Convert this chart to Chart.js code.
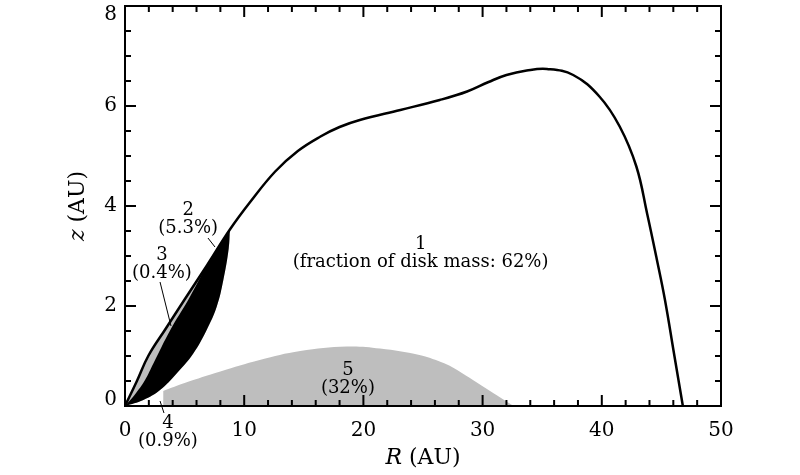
<!DOCTYPE html>
<html>
<head>
<meta charset="utf-8">
<script src="https://cdn.jsdelivr.net/npm/chart.js@4/dist/chart.umd.min.js"></script>
<style>
  body { margin: 0; background: #fff; }
</style>
</head>
<body>
<canvas id="scheibe" width="800" height="475"></canvas>
<script>
// Aussenkontur von Region 1 (R, z in AU)
const aussenR = [0, 1, 1.95, 3.4, 5, 6.9, 8.8, 10.5, 12.6, 14.5, 16.4, 18, 19.7, 23.1, 26.4, 28.7, 30.5, 32, 33.7, 35.4, 37.6, 39.8, 41.5, 42.9, 43.8, 44.6, 45.3, 46.05, 46.8];
const aussenZ = [0, 0.5, 1.0, 1.54, 2.13, 2.82, 3.53, 4.08, 4.69, 5.1, 5.39, 5.58, 5.72, 5.92, 6.12, 6.29, 6.48, 6.62, 6.71, 6.74, 6.62, 6.19, 5.59, 4.79, 3.85, 2.95, 2.12, 1.06, 0];

// Grenze zwischen Region 3 und Region 2
const grenze32R = [0, 0.8, 1.68, 2.38, 3.8, 5.3, 6.9, 8.8];
const grenze32Z = [0, 0.22, 0.52, 0.85, 1.52, 2.12, 2.82, 3.53];

// Grenze zwischen Region 2 und Region 4
const grenze24R = [0, 1.54, 2.94, 4.33, 5.73, 6.85, 7.7, 8.25, 8.7, 8.8];
const grenze24Z = [0, 0.12, 0.32, 0.65, 1.05, 1.52, 1.99, 2.52, 3.15, 3.53];

// Obere Kante von Region 5
const region5R = [3.2, 5, 8, 11.3, 14.7, 18.6, 21.4, 24.7, 26.5, 27.5, 30.3, 32.6];
const region5Z = [0.3, 0.46, 0.69, 0.92, 1.1, 1.19, 1.15, 1.02, 0.88, 0.77, 0.35, 0];

// Beschriftungen der Regionen
const beschriftungen = [
  { zeilen: ['1', '(fraction of disk mass: 62%)'], r: 24.8, z: 3.24 },
  { zeilen: ['2', '(5.3%)'], r: 5.3, z: 3.92 },
  { zeilen: ['3', '(0.4%)'], r: 3.1, z: 3.02 },
  { zeilen: ['4', '(0.9%)'], r: 3.6, z: -0.34 },
  { zeilen: ['5', '(32%)'], r: 18.7, z: 0.72 }
];
const zeiger = [
  [6.96, 3.36, 7.55, 3.18],
  [2.94, 2.48, 3.86, 1.6],
  [2.94, 0.1, 3.27, -0.14]
];

const punkte = (rs, zs) => rs.map((r, i) => ({ x: r, y: zs[i] }));
const spitzeR = 8.8;
const aussenInnen = punkte(aussenR, aussenZ).filter(p => p.x <= spitzeR);

const schrift = '"DejaVu Serif", serif';

const rahmenPlugin = {
  id: 'rahmen',
  afterDraw(chart) {
    const { ctx, chartArea: a, scales: { x, y } } = chart;
    ctx.save();
    ctx.strokeStyle = '#000';
    ctx.lineWidth = 2;
    ctx.strokeRect(a.left, a.top, a.right - a.left, a.bottom - a.top);
    ctx.beginPath();
    for (let i = 0; i <= 25; i++) {
      const px = x.getPixelForValue(i * 2);
      const laenge = i % 5 === 0 ? 11 : 6;
      ctx.moveTo(px, a.bottom); ctx.lineTo(px, a.bottom - laenge);
      ctx.moveTo(px, a.top); ctx.lineTo(px, a.top + laenge);
    }
    for (let i = 0; i <= 16; i++) {
      const py = y.getPixelForValue(i * 0.5);
      const laenge = i % 4 === 0 ? 11 : 6;
      ctx.moveTo(a.left, py); ctx.lineTo(a.left + laenge, py);
      ctx.moveTo(a.right, py); ctx.lineTo(a.right - laenge, py);
    }
    ctx.stroke();

    // Zeigerlinien
    ctx.lineWidth = 1;
    ctx.beginPath();
    zeiger.forEach(([r1, z1, r2, z2]) => {
      ctx.moveTo(x.getPixelForValue(r1), y.getPixelForValue(z1));
      ctx.lineTo(x.getPixelForValue(r2), y.getPixelForValue(z2));
    });
    ctx.stroke();

    // Regionsbeschriftungen
    ctx.fillStyle = '#000';
    ctx.font = '18px ' + schrift;
    ctx.textAlign = 'center';
    ctx.textBaseline = 'middle';
    beschriftungen.forEach(b => {
      const px = x.getPixelForValue(b.r);
      const py = y.getPixelForValue(b.z);
      b.zeilen.forEach((t, i) => ctx.fillText(t, px, py + i * 18));
    });

    // Achsentitel mit kursivem Symbol
    const titel = (symbol, rest, cx, cy, winkel) => {
      ctx.save();
      ctx.translate(cx, cy);
      ctx.rotate(winkel);
      ctx.font = 'italic 22px ' + schrift;
      const bs = ctx.measureText(symbol).width;
      ctx.font = '22px ' + schrift;
      const br = ctx.measureText(rest).width;
      const start = -(bs + br) / 2;
      ctx.textAlign = 'left';
      ctx.font = 'italic 22px ' + schrift;
      ctx.fillText(symbol, start, 0);
      ctx.font = '22px ' + schrift;
      ctx.fillText(rest, start + bs, 0);
      ctx.restore();
    };
    titel('R', ' (AU)', (a.left + a.right) / 2, 458, 0);
    titel('z', ' (AU)', 78, (a.top + a.bottom) / 2, -Math.PI / 2);
    ctx.restore();
  }
};

new Chart(document.getElementById('scheibe').getContext('2d'), {
  type: 'scatter',
  data: {
    datasets: [
      {
        label: 'Region 1',
        data: punkte(aussenR, aussenZ),
        showLine: true,
        borderColor: '#000',
        borderWidth: 2.5,
        tension: 0.4,
        fill: false,
        order: 0
      },
      {
        label: 'Region 2',
        data: punkte(grenze32R, grenze32Z),
        showLine: true,
        borderWidth: 0,
        borderColor: 'rgba(0,0,0,0)',
        backgroundColor: '#000',
        tension: 0.4,
        fill: { target: 2 },
        order: 1
      },
      {
        label: 'Grenze 2/4',
        data: punkte(grenze24R, grenze24Z),
        showLine: true,
        borderWidth: 0,
        borderColor: 'rgba(0,0,0,0)',
        tension: 0.4,
        fill: false,
        order: 2
      },
      {
        label: 'Region 3',
        data: aussenInnen,
        showLine: true,
        borderWidth: 0,
        borderColor: 'rgba(0,0,0,0)',
        backgroundColor: '#bebebe',
        tension: 0.4,
        fill: { target: 2 },
        order: 3
      },
      {
        label: 'Region 5',
        data: punkte(region5R, region5Z),
        showLine: true,
        borderWidth: 0,
        borderColor: 'rgba(0,0,0,0)',
        backgroundColor: '#bebebe',
        tension: 0.4,
        fill: 'origin',
        order: 4
      }
    ]
  },
  options: {
    responsive: false,
    animation: false,
    layout: { padding: { top: 6, right: 79, left: 0, bottom: 0 } },
    elements: { point: { radius: 0, hoverRadius: 0 } },
    plugins: {
      legend: { display: false },
      tooltip: { enabled: false }
    },
    scales: {
      x: {
        type: 'linear',
        min: 0,
        max: 50,
        ticks: {
          stepSize: 10,
          color: '#000',
          padding: 13,
          maxRotation: 0,
          font: { family: schrift, size: 20 }
        },
        grid: { display: false, drawTicks: false },
        border: { display: false },
        afterFit: s => { s.height = 69; s.paddingLeft = 0; s.paddingRight = 0; }
      },
      y: {
        min: 0,
        max: 8,
        ticks: {
          stepSize: 2,
          color: '#000',
          padding: 8,
          // Randbeschriftungen wie im Original nach innen gerückt
          callback: v => v === 8 ? ['', '8'] : v === 0 ? ['0', ''] : String(v),
          font: c => {
            const v = c.tick ? c.tick.value : null;
            return { family: schrift, size: 20, lineHeight: v === 8 ? '18px' : v === 0 ? '12px' : 1.2 };
          }
        },
        grid: { display: false, drawTicks: false },
        border: { display: false },
        afterFit: s => { s.width = 125; s.paddingTop = 0; s.paddingBottom = 0; }
      }
    }
  },
  plugins: [rahmenPlugin]
});
</script>
</body>
</html>
